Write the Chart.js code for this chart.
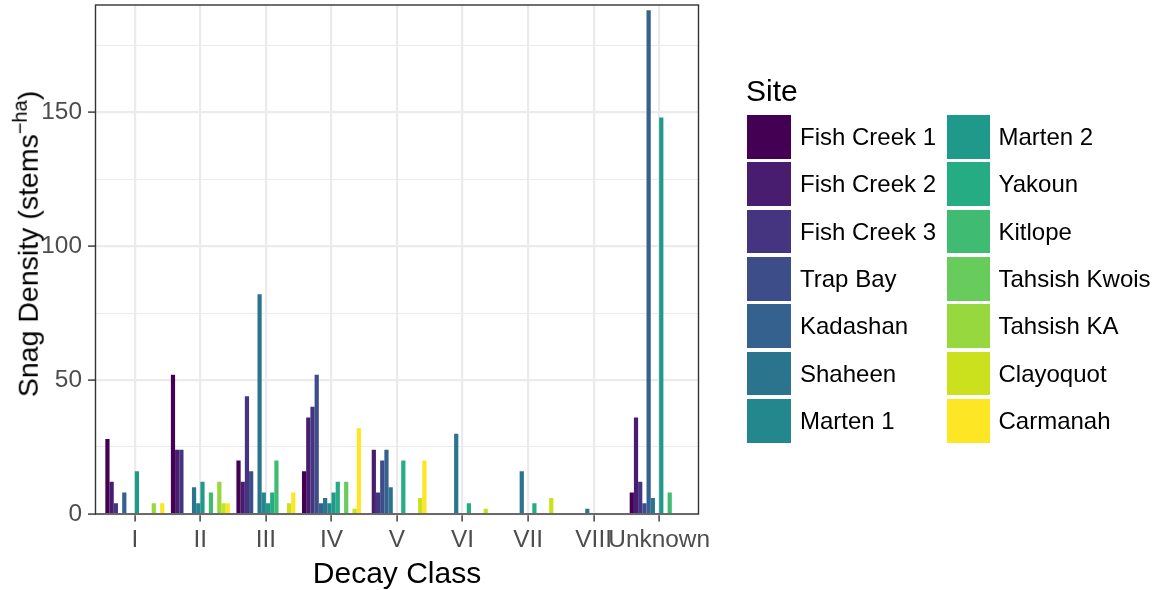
<!DOCTYPE html>
<html><head><meta charset="utf-8">
<script src="https://cdn.jsdelivr.net/npm/chart.js@4/dist/chart.umd.min.js"></script>
<style>
html,body{margin:0;padding:0;background:#fff;}
body{width:1157px;height:590px;overflow:hidden;position:relative;font-family:"Liberation Sans",Arial,Helvetica,sans-serif;}
#c{position:absolute;left:0;top:0;}
.ov{position:absolute;white-space:nowrap;line-height:1;color:#000;}
#ytitle{font-size:28.5px;left:28px;top:244px;transform:translate(-50%,-50%) rotate(-90deg);}
#ytitle .sup{font-size:20px;position:relative;top:-11px;line-height:0;}
#xtitle{font-size:30px;left:397px;top:558px;transform:translateX(-50%);}
#sitetitle{font-size:30px;left:746px;top:76px;}
.key{position:absolute;width:43.4px;height:43.6px;}
.lab{position:absolute;font-size:24px;line-height:1;white-space:nowrap;transform:translateY(-50%);}
</style></head><body>
<canvas id="c" width="1157" height="590"></canvas>
<div id="ytitle" class="ov">Snag Density (stems<span class="sup">−ha</span>)</div>
<div id="xtitle" class="ov">Decay Class</div>
<div id="sitetitle" class="ov">Site</div>
<div id="legend"></div>
<script>
// Decay classes (x categories)
const categories = ['I','II','III','IV','V','VI','VII','VIII','Unknown'];
// Sites (legend order) and their viridis colours
const sites = ['Fish Creek 1','Fish Creek 2','Fish Creek 3','Trap Bay','Kadashan','Shaheen','Marten 1',
               'Marten 2','Yakoun','Kitlope','Tahsish Kwois','Tahsish KA','Clayoquot','Carmanah'];
const siteColors = ['#440154','#481C6E','#453581','#3D4D8A','#34618D','#2B748E','#24878E',
                    '#1F998A','#25AC82','#40BC72','#67CC5C','#97D83F','#CBE11E','#FDE725'];
// Snag density (stems/ha) per decay class, one array per site
const fishCreek1   = [28, 52, 20, 16,  0,  0,  0, 0,   8];
const fishCreek2   = [12, 24, 12, 36, 24,  0,  0, 0,  36];
const fishCreek3   = [ 4, 24, 44, 40,  8,  0,  0, 0,  12];
const trapBay      = [ 0,  0, 16, 52, 20,  0,  0, 0,   4];
const kadashan     = [ 8,  0,  0,  4, 24,  0,  0, 0, 188];
const shaheen      = [ 0, 10, 82,  6, 10, 30, 16, 2,   6];
const marten1      = [ 0,  4,  8,  4,  0,  0,  0, 0,   0];
const marten2      = [16, 12,  4,  8,  0,  0,  0, 0, 148];
const yakoun       = [ 0,  0,  8, 12, 20,  4,  4, 0,   0];
const kitlope      = [ 0,  8, 20,  0,  0,  0,  0, 0,   8];
const tahsishKwois = [ 0,  0,  0, 12,  0,  0,  0, 0,   0];
const tahsishKA    = [ 4, 12,  0,  0,  0,  0,  0, 0,   0];
const clayoquot    = [ 0,  4,  4,  2,  6,  2,  6, 0,   0];
const carmanah     = [ 4,  4,  8, 32, 20,  0,  0, 0,   0];
const seriesValues = [fishCreek1,fishCreek2,fishCreek3,trapBay,kadashan,shaheen,marten1,
                      marten2,yakoun,kitlope,tahsishKwois,tahsishKA,clayoquot,carmanah];
// Y axis ticks
const yTicks = [0,25,50,75,100,125,150,175];
const yLabelTicks = [0,50,100,150];

const FONT = '"Liberation Sans", Arial, Helvetica, sans-serif';
const PANEL = {left:95.5, right:698.5, top:5, bottom:514};

const datasets = sites.map((s,k)=>({
  label: s,
  data: seriesValues[k].map((v,i)=>({x:i+1, y:v})),
  backgroundColor: siteColors[k],
  borderWidth: 0,
  categoryPercentage: 0.9,
  barPercentage: 1.0
}));

const borderPlugin = {
  id:'panelBorder',
  afterDatasetsDraw(chart){
    const a = chart.chartArea, ctx = chart.ctx;
    ctx.save();
    ctx.strokeStyle = '#333333';
    ctx.lineWidth = 1.4;
    ctx.strokeRect(a.left, a.top, a.right-a.left, a.bottom-a.top);
    ctx.restore();
  }
};

function zeroPad(scale){
  scale.paddingTop = 0; scale.paddingBottom = 0;
  scale.paddingLeft = 0; scale.paddingRight = 0;
}

new Chart(document.getElementById('c'), {
  type:'bar',
  data:{datasets},
  plugins:[borderPlugin],
  options:{
    responsive:false, animation:false, devicePixelRatio:1,
    layout:{padding:{left:0, right:1157-PANEL.right, top:PANEL.top, bottom:0}},
    plugins:{legend:{display:false}, tooltip:{enabled:false}},
    scales:{
      x:{
        type:'linear', min:0.4, max:9.6, offset:false,
        afterBuildTicks(scale){ scale.ticks = categories.map((c,i)=>({value:i+1})); },
        afterFit(scale){ scale.height = 590-PANEL.bottom; zeroPad(scale); },
        grid:{offset:false, color:'#EBEBEB', lineWidth:2.2, tickColor:'#333333', tickLength:7.5, tickWidth:1.4, drawOnChartArea:true},
        border:{display:false},
        ticks:{autoSkip:false, maxRotation:0, minRotation:0, padding:4, color:'#4D4D4D',
               font:{family:FONT, size:24.4},
               callback:(v)=>categories[Math.round(v)-1]}
      },
      y:{
        type:'linear', min:0, max:190,
        afterBuildTicks(scale){ scale.ticks = yTicks.map(v=>({value:v})); },
        afterFit(scale){ scale.width = PANEL.left; zeroPad(scale); },
        grid:{color:'#EBEBEB',
              lineWidth:(ctx)=> (ctx.tick && yLabelTicks.includes(ctx.tick.value)) ? 2.2 : 1.1,
              tickColor:(ctx)=> (ctx.tick && yLabelTicks.includes(ctx.tick.value)) ? '#333333' : 'rgba(0,0,0,0)',
              tickLength:7.5, tickWidth:1.4},
        border:{display:false},
        ticks:{padding:6, color:'#4D4D4D', font:{family:FONT, size:24.4},
               callback:(v)=> yLabelTicks.includes(v) ? String(v) : ''}
      }
    }
  }
});

// Legend (HTML, two columns of seven)
const legend = document.getElementById('legend');
const keyLeft = [747.4, 946.8], textLeft = [800, 998.5];
const rowTop0 = 115, rowPitch = 47.35;
sites.forEach((s,k)=>{
  const col = Math.floor(k/7), row = k%7;
  const top = rowTop0 + row*rowPitch;
  const key = document.createElement('div');
  key.className = 'key';
  key.style.left = keyLeft[col]+'px';
  key.style.top = top+'px';
  key.style.background = siteColors[k];
  legend.appendChild(key);
  const lab = document.createElement('div');
  lab.className = 'lab';
  lab.textContent = s;
  lab.style.left = textLeft[col]+'px';
  lab.style.top = (top+21.8)+'px';
  legend.appendChild(lab);
});
</script>
</body></html>
